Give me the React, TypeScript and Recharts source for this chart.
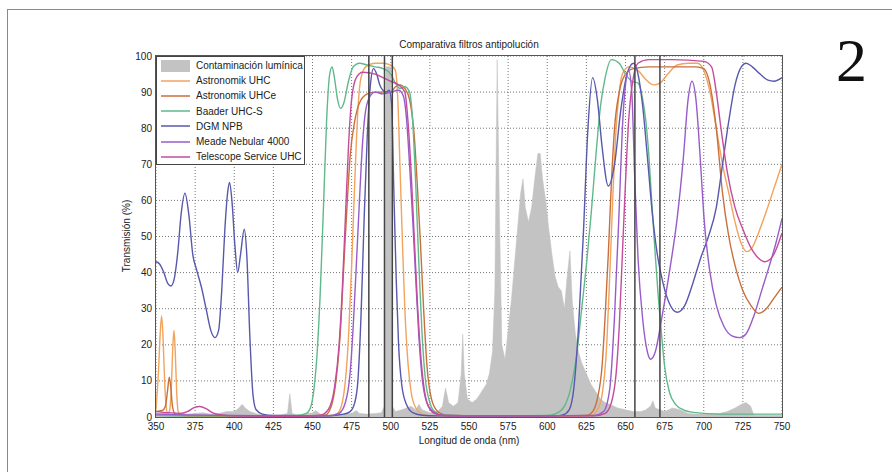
import React from "react";
import { ComposedChart, Line, Area, XAxis, YAxis, CartesianGrid, ReferenceLine } from "recharts";

type Pt = [number, number];

const FONT = "'Liberation Sans', Arial, sans-serif";

const xTicks = [350, 375, 400, 425, 450, 475, 500, 525, 550, 575, 600, 625, 650, 675, 700, 725, 750];
const yTicks = [0, 10, 20, 30, 40, 50, 60, 70, 80, 90, 100];
// Hb, OIII, OIII, Ha, SII
const emissionLines = [486, 496, 501, 656, 672];

// espectro de la contaminación lumínica (%)
const contaminacion: Pt[] = [
  [350, 1], [355, 1.2], [360, 0.8], [365, 1], [370, 0.8], [375, 1], [380, 1.2], [385, 0.8], [390, 1],
  [395, 1.5], [400, 1.5], [403, 2.5], [405, 3.5], [407, 2.5], [410, 1.5], [415, 0.8], [420, 0.5],
  [425, 0.5], [430, 0.6], [434, 1], [435.5, 6.5], [437, 1], [440, 0.6], [445, 0.8], [450, 1.2],
  [452, 1.8], [455, 0.8], [460, 0.6], [465, 0.8], [470, 0.8], [475, 1], [478, 1.8], [480, 1],
  [485, 0.8], [490, 1], [494, 1.2], [496, 3], [497, 97], [500, 97], [501, 3], [503, 1.5], [507, 2],
  [510, 2.5], [513, 3], [516, 2], [518, 3.5], [520, 2], [525, 1.2], [530, 1.5], [533, 3], [535, 8],
  [537, 4], [540, 3], [543, 4], [545, 12], [546, 23], [547, 12], [549, 5], [552, 4], [555, 5],
  [558, 7], [561, 9], [563, 12], [565, 18], [566.5, 35], [568, 99], [569.5, 55], [571, 20],
  [573, 16], [575, 24], [577, 32], [579, 42], [581, 52], [583, 62], [584.5, 66], [586, 58],
  [588, 54], [590, 58], [592, 66], [594, 73], [595.5, 73], [597, 66], [599, 60], [601, 52],
  [603, 45], [605, 39], [607, 36], [609, 35], [611, 30], [612.5, 38], [614.5, 46], [616, 32],
  [618, 23], [620, 18], [622, 15], [625, 12], [628, 9], [631, 7], [634, 5], [637, 4], [640, 3.5],
  [645, 2.5], [650, 2], [655, 1.5], [660, 1.5], [663, 2], [666, 3], [667.5, 4.5], [669, 2.5],
  [672, 2], [675, 1.5], [680, 2.5], [685, 2], [690, 1], [695, 0.8], [700, 0.8], [705, 1], [710, 1],
  [715, 1.5], [720, 2.5], [724, 3.5], [727, 4], [730, 3], [732, 0.5], [740, 0.5], [750, 0.5],
];

const astronomikUHC: Pt[] = [
  [350, 2], [351.5, 12], [352.8, 24], [353.6, 28], [354.5, 22], [355.5, 10], [356.5, 3], [357.5, 1],
  [358.5, 1.5], [359.8, 8], [360.8, 20], [361.5, 24], [362.3, 18], [363.2, 7], [364.2, 1.5],
  [366, 0.5], [370, 0.3], [400, 0.2], [440, 0.2], [462, 0.3], [466, 1], [469, 4], [471, 10],
  [473, 22], [475, 42], [477, 65], [479, 85], [481, 94], [484, 97], [490, 98], [495, 98],
  [500, 97.5], [503, 96], [504.5, 88], [506, 68], [507.5, 48], [509, 30], [511, 15], [513, 7],
  [516, 2.5], [520, 0.8], [525, 0.3], [600, 0.2], [628, 0.4], [632, 2], [635, 6], [638, 20],
  [640, 40], [642, 62], [644, 80], [646, 90], [648, 95], [652, 97], [658, 96], [663, 93.5],
  [668, 92], [672, 92.5], [677, 95], [683, 97.5], [690, 98], [696, 98], [700, 96], [704, 90],
  [708, 80], [712, 70], [716, 62], [720, 54], [724, 48], [727.5, 45.8], [731, 47], [735, 51],
  [740, 57], [745, 63.5], [750, 70],
];

const astronomikUHCe: Pt[] = [
  [350, 1.5], [354, 1.8], [356, 3], [357.3, 7], [358.5, 11], [359.5, 8], [360.5, 3], [362, 1],
  [365, 0.5], [380, 0.3], [440, 0.2], [458, 0.5], [462, 3], [465, 10], [468, 25], [470, 42],
  [472, 58], [474, 72], [477, 82], [480, 87], [485, 89.5], [490, 90], [495, 90], [500, 90],
  [503, 91.5], [506, 92], [509, 91], [512, 88], [515, 78], [517, 64], [519, 48], [521, 30],
  [523, 15], [526, 5], [530, 1.5], [535, 0.5], [560, 0.3], [625, 0.4], [629, 1.5], [632, 5],
  [635, 14], [637, 28], [639, 45], [641, 65], [643, 80], [646, 90], [650, 95], [655, 96.5],
  [665, 97], [680, 97], [695, 97], [700, 96.5], [704, 92], [708, 80], [712, 62], [716, 50],
  [720, 42], [725, 35], [730, 31], [735, 28.7], [740, 30], [745, 33], [750, 36],
];

const baaderUHCS: Pt[] = [
  [350, 0.5], [380, 0.3], [420, 0.3], [440, 0.4], [446, 1], [449, 3], [451, 8], [453, 18],
  [455, 35], [457, 58], [459, 82], [461, 95], [462.5, 97], [464, 94], [466, 88], [468, 85.5],
  [470, 87], [473, 93], [476, 97], [480, 98], [485, 97.5], [490, 97], [495, 96.5], [500, 95],
  [503, 92.5], [506, 91], [509, 91.5], [512, 90], [514, 82], [516, 64], [518, 42], [520, 23],
  [522, 11], [525, 4], [528, 1.5], [533, 0.5], [560, 0.3], [600, 0.4], [606, 1], [611, 3],
  [615, 8], [619, 18], [622, 30], [625, 42], [628, 56], [631, 72], [634, 86], [637, 94],
  [641, 99], [646, 98], [650, 95], [654, 93], [658, 92.5], [661, 88], [663, 82], [665, 72],
  [667, 58], [669, 45], [671, 33], [673, 23], [675, 14], [678, 7], [682, 3.5], [687, 2],
  [695, 1.2], [710, 0.8], [750, 0.8],
];

const dgmNPB: Pt[] = [
  [350, 43], [352, 42.5], [355, 40], [357.5, 37], [359.5, 36.3], [361.5, 38], [364, 46], [366, 56],
  [368.5, 62], [371, 56], [373.5, 45], [376, 40.7], [379, 36], [382, 30], [385, 24], [387.7, 22],
  [390, 24], [392, 35], [394, 52], [396, 63], [397, 65], [398.5, 60], [400.5, 47], [402.2, 40],
  [404, 45], [406.4, 52], [408, 45], [410, 22], [412, 6], [414, 2], [418, 0.8], [425, 0.4],
  [460, 0.3], [470, 0.8], [474, 1.5], [477, 4], [479, 10], [481, 28], [483, 55], [485, 78],
  [487, 92], [489, 96.5], [491, 95], [493, 92], [495, 90.5], [497, 90], [499, 90.5], [500.5, 87],
  [502, 62], [503.5, 38], [505, 20], [507, 9], [510, 3.5], [514, 1.2], [520, 0.5], [530, 0.3],
  [605, 0.3], [610, 0.6], [614, 2], [617, 8], [620, 25], [623, 50], [626, 80], [629, 94],
  [632, 88], [635, 75], [639, 64], [643, 70], [647, 85], [651, 95], [655, 98], [658, 95],
  [661, 86], [664, 72], [667, 57], [670, 46], [674, 37], [678, 31.5], [683, 29], [688, 31],
  [693, 37], [698, 44], [703, 50], [708, 58], [712, 70], [716, 82], [720, 92], [724, 97],
  [727, 98], [731, 97], [736, 95], [741, 93.3], [745, 93], [750, 94],
];

const meadeNebular: Pt[] = [
  [350, 0.8], [370, 0.6], [400, 0.4], [440, 0.3], [460, 0.3], [467, 1], [471, 4], [474, 12],
  [476, 25], [478, 42], [480, 60], [482, 76], [484, 85], [487, 89], [490, 90], [495, 89.5],
  [500, 90], [505, 90.5], [508, 89], [510, 83], [512, 70], [514, 55], [516, 38], [518, 22],
  [520, 11], [523, 4], [527, 1.5], [533, 0.5], [560, 0.3], [630, 0.4], [636, 1.5], [640, 8],
  [643, 28], [646, 58], [648, 80], [650, 92], [652, 96], [654, 90], [656, 65], [658, 44],
  [661, 27], [664, 18], [666, 16], [669, 18], [673, 27], [678, 40], [683, 55], [687, 72],
  [690, 88], [692.5, 93], [695, 88], [698, 70], [700, 56], [704, 40], [708, 31], [713, 25],
  [718, 22.5], [723, 22], [727, 23], [732, 28], [737, 35], [742, 42], [746, 48], [750, 55],
];

const telescopeServiceUHC: Pt[] = [
  [350, 1.5], [358, 1.2], [365, 1], [370, 1.5], [374, 2.5], [378, 2.9], [382, 2.3], [386, 1.2],
  [390, 0.7], [400, 0.3], [440, 0.2], [455, 0.5], [460, 2], [464, 8], [467, 20], [469, 35],
  [471, 55], [473, 75], [475, 88], [478, 94], [482, 95.5], [490, 95], [495, 94], [500, 93],
  [505, 92], [509, 90], [511, 82], [513, 68], [515, 50], [517, 32], [519, 18], [521, 9],
  [524, 3], [528, 1], [535, 0.3], [630, 0.3], [637, 1], [641, 4], [644, 12], [646, 25],
  [648, 45], [650, 65], [652, 82], [655, 94], [658, 98], [665, 99], [680, 99], [700, 98.5],
  [705, 97], [708, 90], [711, 80], [715, 68], [720, 58], [725, 52], [730, 47], [735, 44],
  [739, 43], [744, 44.5], [750, 51],
];

const pollutionName = "Contaminación lumínica";
const pollutionColor = "#c3c3c3";

const filters = [
  { name: "Astronomik UHC", color: "#f2a35c", pts: astronomikUHC },
  { name: "Astronomik UHCe", color: "#c8703c", pts: astronomikUHCe },
  { name: "Baader UHC-S", color: "#5fb98b", pts: baaderUHCS },
  { name: "DGM NPB", color: "#5858ad", pts: dgmNPB },
  { name: "Meade Nebular 4000", color: "#985cca", pts: meadeNebular },
  { name: "Telescope Service UHC", color: "#c44c9c", pts: telescopeServiceUHC },
];

const toRows = (pts: Pt[]) => pts.map(([nm, t]) => ({ nm, t }));

const abs = (s: React.CSSProperties): React.CSSProperties => ({ position: "absolute", ...s });

function ChartLegend() {
  return (
    <div style={abs({ left: 156, top: 56, width: 149, height: 109, boxSizing: "border-box", border: "1.5px solid #444", background: "#fff", fontSize: 10, color: "#222" })}>
      <div style={{ display: "flex", alignItems: "center", height: 15.2, marginTop: 1 }}>
        <svg width={34} height={12} style={{ marginLeft: 3 }}>
          <rect x={1} y={0} width={29} height={12} fill={pollutionColor} />
        </svg>
        <span style={{ marginLeft: 2 }}>{pollutionName}</span>
      </div>
      {filters.map((f) => (
        <div key={f.name} style={{ display: "flex", alignItems: "center", height: 15.2 }}>
          <svg width={34} height={12} style={{ marginLeft: 3 }}>
            <line x1={1} x2={30} y1={6} y2={6} stroke={f.color} strokeWidth={1.5} />
          </svg>
          <span style={{ marginLeft: 2 }}>{f.name}</span>
        </div>
      ))}
    </div>
  );
}

export default function App() {
  return (
    <div style={abs({ left: 0, top: 0, width: 892, height: 472, overflow: "hidden", background: "#fff", fontFamily: FONT })}>
      <div style={abs({ left: 7, top: 9, width: 920, height: 500, border: "1.5px solid #8a8a8a" })} />
      <div style={abs({ left: 0, top: 0 })}>
        <ComposedChart width={892} height={472} margin={{ top: 56, right: 110, bottom: 25, left: 116 }}>
          <CartesianGrid stroke="#777" strokeDasharray="1 2" />
          <XAxis
            dataKey="nm"
            type="number"
            domain={[350, 750]}
            ticks={xTicks}
            allowDataOverflow
            height={30}
            tickLine={false}
            axisLine={false}
            tickSize={4}
            tickMargin={2}
            tick={{ fontSize: 10, fill: "#222", fontFamily: FONT }}
          />
          <YAxis
            type="number"
            domain={[0, 100]}
            ticks={yTicks}
            width={40}
            tickLine={false}
            axisLine={false}
            tickSize={3}
            tickMargin={1}
            tick={{ fontSize: 10, fill: "#222", fontFamily: FONT }}
          />
          <Area
            data={toRows(contaminacion)}
            dataKey="t"
            type="linear"
            fill={pollutionColor}
            fillOpacity={1}
            stroke={pollutionColor}
            strokeWidth={0.5}
            isAnimationActive={false}
          />
          {filters.map((f) => (
            <Line
              key={f.name}
              data={toRows(f.pts)}
              dataKey="t"
              name={f.name}
              type="monotone"
              stroke={f.color}
              strokeWidth={1.4}
              dot={false}
              isAnimationActive={false}
            />
          ))}
          {emissionLines.map((nm) => (
            <ReferenceLine key={nm} x={nm} stroke="#444" strokeWidth={1.5} />
          ))}
        </ComposedChart>
      </div>
      <div style={abs({ left: 155, top: 55, width: 628, height: 363, boxSizing: "border-box", border: "1.5px solid #555" })} />
      <div style={abs({ left: 156, top: 39, width: 626, textAlign: "center", fontSize: 10, color: "#222" })}>
        Comparativa filtros antipolución
      </div>
      <div style={abs({ left: 156, top: 435, width: 626, textAlign: "center", fontSize: 10, color: "#222" })}>
        Longitud de onda (nm)
      </div>
      <div style={abs({ left: 126, top: 236, transform: "translate(-50%, -50%) rotate(-90deg)", whiteSpace: "nowrap", fontSize: 10, color: "#222" })}>
        Transmisión (%)
      </div>
      <ChartLegend />
      <div style={abs({ left: 836, top: 29, fontFamily: "'Liberation Serif', 'DejaVu Serif', serif", fontSize: 62, lineHeight: 1, color: "#111" })}>
        2
      </div>
    </div>
  );
}
